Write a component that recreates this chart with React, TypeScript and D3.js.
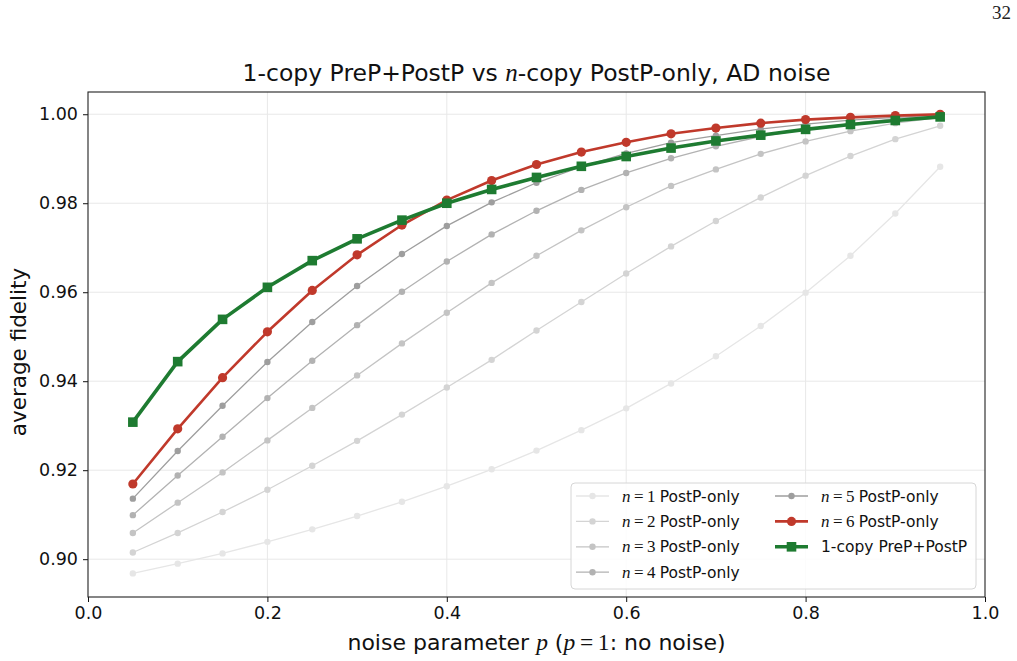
import React, { useEffect, useRef } from 'react';
import * as d3 from 'd3';

// noise parameter p sampled at 0.05 steps
const pValues = [0.05, 0.1, 0.15, 0.2, 0.25, 0.3, 0.35, 0.4, 0.45, 0.5, 0.55, 0.6, 0.65, 0.7, 0.75, 0.8, 0.85, 0.9, 0.95];

// n-copy PostP-only average fidelity
const postN1 = [0.8968, 0.8990, 0.9013, 0.9039, 0.9067, 0.9097, 0.9129, 0.9164, 0.9202, 0.9244, 0.9290, 0.9339, 0.9395, 0.9456, 0.9524, 0.9599, 0.9682, 0.9777, 0.9882];
const postN2 = [0.9015, 0.9059, 0.9106, 0.9156, 0.9210, 0.9266, 0.9325, 0.9386, 0.9448, 0.9514, 0.9578, 0.9642, 0.9703, 0.9760, 0.9813, 0.9862, 0.9906, 0.9944, 0.9974];
const postN3 = [0.9059, 0.9127, 0.9195, 0.9267, 0.9340, 0.9413, 0.9485, 0.9554, 0.9621, 0.9682, 0.9739, 0.9791, 0.9839, 0.9876, 0.9911, 0.9939, 0.9962, 0.9980, 0.9993];
const postN4 = [0.9099, 0.9188, 0.9275, 0.9362, 0.9446, 0.9526, 0.9601, 0.9669, 0.9730, 0.9783, 0.9830, 0.9868, 0.9901, 0.9928, 0.9950, 0.9966, 0.9979, 0.9990, 0.9997];
const postN5 = [0.9136, 0.9243, 0.9345, 0.9443, 0.9533, 0.9614, 0.9686, 0.9749, 0.9802, 0.9846, 0.9882, 0.9912, 0.9936, 0.9952, 0.9967, 0.9978, 0.9987, 0.9993, 0.9998];
const postN6 = [0.9169, 0.9293, 0.9408, 0.9511, 0.9604, 0.9684, 0.9751, 0.9807, 0.9851, 0.9887, 0.9915, 0.9937, 0.9956, 0.9969, 0.9980, 0.9988, 0.9993, 0.9997, 1.0000];

// 1-copy PreP+PostP average fidelity
const prePost = [0.9308, 0.9444, 0.9539, 0.9611, 0.9671, 0.9720, 0.9762, 0.9800, 0.9831, 0.9858, 0.9883, 0.9905, 0.9924, 0.9940, 0.9953, 0.9966, 0.9977, 0.9986, 0.9994];

const xTicks = [0, 0.2, 0.4, 0.6, 0.8, 1.0];
const yTicks = [0.9, 0.92, 0.94, 0.96, 0.98, 1.0];

const W = 1017;
const H = 661;
const margin = { top: 92, right: 32, bottom: 64, left: 88 };
const SANS = 'DejaVu Sans, sans-serif';
const MATH = 'Liberation Serif, DejaVu Serif, serif';

interface Series {
  n: number | null;
  values: number[];
  color: string;
  width: number;
  marker: 'circle' | 'square';
  size: number;
}

const series: Series[] = [
  { n: 1, values: postN1, color: '#e6e6e6', width: 1.3, marker: 'circle', size: 3.2 },
  { n: 2, values: postN2, color: '#d4d4d4', width: 1.3, marker: 'circle', size: 3.2 },
  { n: 3, values: postN3, color: '#c4c4c4', width: 1.3, marker: 'circle', size: 3.2 },
  { n: 4, values: postN4, color: '#b2b2b2', width: 1.3, marker: 'circle', size: 3.2 },
  { n: 5, values: postN5, color: '#9e9e9e', width: 1.3, marker: 'circle', size: 3.2 },
  { n: 6, values: postN6, color: '#c0392b', width: 2.6, marker: 'circle', size: 4.6 },
  { n: null, values: prePost, color: '#1e7b31', width: 3.6, marker: 'square', size: 4.8 },
];

export default function App() {
  const ref = useRef<SVGSVGElement>(null);

  useEffect(() => {
    const svg = d3.select(ref.current);
    svg.selectAll('*').remove();

    const x = d3.scaleLinear().domain([0, 1]).range([margin.left, W - margin.right]);
    const y = d3.scaleLinear().domain([0.8915, 1.005]).range([H - margin.bottom, margin.top]);

    svg.append('rect').attr('width', W).attr('height', H).attr('fill', '#fff');

    // page number
    svg.append('text').attr('x', 1011).attr('y', 19).attr('text-anchor', 'end')
      .attr('font-family', MATH).attr('font-size', 19).attr('fill', '#222').text('32');

    // grid
    const grid = svg.append('g').attr('stroke', '#e8e8e8').attr('stroke-width', 1);
    xTicks.slice(1, -1).forEach(t => {
      grid.append('line').attr('x1', x(t)).attr('x2', x(t)).attr('y1', margin.top).attr('y2', H - margin.bottom);
    });
    yTicks.forEach(t => {
      grid.append('line').attr('x1', margin.left).attr('x2', W - margin.right).attr('y1', y(t)).attr('y2', y(t));
    });

    // axes
    const xAxis = svg.append('g').attr('transform', `translate(0,${H - margin.bottom})`)
      .call(d3.axisBottom(x).tickValues(xTicks).tickFormat(d3.format('.1f')).tickSize(5).tickPadding(5));
    const yAxis = svg.append('g').attr('transform', `translate(${margin.left},0)`)
      .call(d3.axisLeft(y).tickValues(yTicks).tickFormat(d3.format('.2f')).tickSize(5).tickPadding(5));
    [xAxis, yAxis].forEach(a => {
      a.select('.domain').remove();
      a.selectAll('text').attr('font-family', SANS).attr('font-size', 17.5).attr('fill', '#111');
      a.selectAll('line').attr('stroke', '#111');
    });

    // lines and markers
    const line = d3.line<number>().x((_, i) => x(pValues[i])).y(d => y(d));
    const drawMarker = (g: any, s: Series, cx: number, cy: number) => {
      if (s.marker === 'circle') {
        g.append('circle').attr('cx', cx).attr('cy', cy).attr('r', s.size).attr('fill', s.color);
      } else {
        g.append('rect').attr('x', cx - s.size).attr('y', cy - s.size)
          .attr('width', s.size * 2).attr('height', s.size * 2).attr('fill', s.color);
      }
    };
    series.forEach(s => {
      const g = svg.append('g');
      g.append('path').datum(s.values).attr('d', line).attr('fill', 'none')
        .attr('stroke', s.color).attr('stroke-width', s.width).attr('stroke-linejoin', 'round');
      s.values.forEach((v, i) => drawMarker(g, s, x(pValues[i]), y(v)));
    });

    // frame
    svg.append('rect').attr('x', margin.left).attr('y', margin.top)
      .attr('width', W - margin.left - margin.right).attr('height', H - margin.top - margin.bottom)
      .attr('fill', 'none').attr('stroke', '#222').attr('stroke-width', 1.1);

    // legend
    const lg = svg.append('g');
    lg.append('rect').attr('x', 571).attr('y', 483).attr('width', 405).attr('height', 106)
      .attr('rx', 4).attr('fill', 'rgba(255,255,255,0.85)').attr('stroke', '#d6d6d6');
    const rowY = (r: number) => 496 + r * 25.4;
    series.forEach((s, i) => {
      const col = i < 4 ? 0 : 1;
      const row = i < 4 ? i : i - 4;
      const x0 = col === 0 ? 576 : 775;
      const yy = rowY(row);
      lg.append('line').attr('x1', x0).attr('x2', x0 + 33).attr('y1', yy).attr('y2', yy)
        .attr('stroke', s.color).attr('stroke-width', s.width);
      drawMarker(lg, s, x0 + 16.5, yy);
      const t = lg.append('text').attr('x', x0 + 46).attr('y', yy + 5.5)
        .attr('font-family', SANS).attr('font-size', 15.5).attr('fill', '#111');
      if (s.n !== null) {
        t.append('tspan').attr('font-family', MATH).attr('font-style', 'italic').attr('font-size', 17).text('n');
        t.append('tspan').attr('font-family', MATH).attr('font-size', 17).text(`\u2009=\u2009${s.n} `);
        t.append('tspan').text('PostP-only');
      } else {
        t.text('1-copy PreP+PostP');
      }
    });

    // title
    const title = svg.append('text').attr('x', (margin.left + W - margin.right) / 2).attr('y', 81)
      .attr('text-anchor', 'middle').attr('font-family', SANS).attr('font-size', 23.5).attr('fill', '#111');
    title.append('tspan').text('1-copy PreP+PostP vs ');
    title.append('tspan').attr('font-family', MATH).attr('font-style', 'italic').attr('font-size', 25).text('n');
    title.append('tspan').text('-copy PostP-only, AD noise');

    // axis labels
    const xl = svg.append('text').attr('x', (margin.left + W - margin.right) / 2).attr('y', 650)
      .attr('text-anchor', 'middle').attr('font-family', SANS).attr('font-size', 22).attr('fill', '#111');
    xl.append('tspan').text('noise parameter ');
    xl.append('tspan').attr('font-family', MATH).attr('font-style', 'italic').attr('font-size', 23.5).text('p');
    xl.append('tspan').text(' (');
    xl.append('tspan').attr('font-family', MATH).attr('font-style', 'italic').attr('font-size', 23.5).text('p');
    xl.append('tspan').attr('font-family', MATH).attr('font-size', 23.5).text('\u2009=\u20091');
    xl.append('tspan').text(': no noise)');

    svg.append('text').attr('transform', `translate(26,352) rotate(-90)`)
      .attr('text-anchor', 'middle').attr('font-family', SANS).attr('font-size', 21.5).attr('fill', '#111')
      .text('average fidelity');
  }, []);

  return (
    <svg ref={ref} width={W} height={H} style={{ position: 'absolute', left: 0, top: 0, display: 'block' }} />
  );
}
